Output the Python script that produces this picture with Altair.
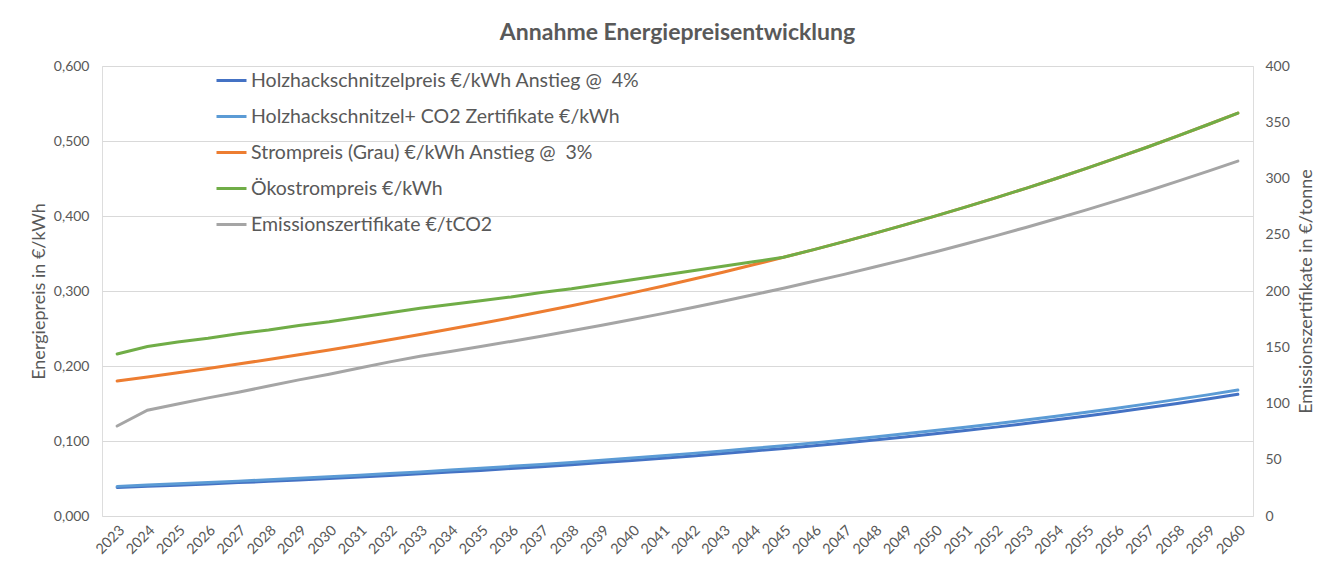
import altair as alt
import pandas as pd

years = list(range(2023, 2061))

holz = [0.0380, 0.0395, 0.0411, 0.0427, 0.0445, 0.0462, 0.0481, 0.0500, 0.0520, 0.0541,
        0.0562, 0.0585, 0.0608, 0.0633, 0.0658, 0.0684, 0.0712, 0.0740, 0.0770, 0.0801,
        0.0833, 0.0866, 0.0901, 0.0937, 0.0974, 0.1013, 0.1054, 0.1096, 0.1140, 0.1185,
        0.1232, 0.1282, 0.1333, 0.1386, 0.1442, 0.1500, 0.1559, 0.1622]

holz_co2 = [0.0395, 0.0412, 0.0429, 0.0446, 0.0465, 0.0483, 0.0503, 0.0523, 0.0544, 0.0566,
            0.0588, 0.0612, 0.0636, 0.0662, 0.0687, 0.0714, 0.0743, 0.0772, 0.0803, 0.0835,
            0.0868, 0.0902, 0.0938, 0.0975, 0.1014, 0.1054, 0.1096, 0.1139, 0.1184, 0.1231,
            0.1279, 0.1331, 0.1383, 0.1438, 0.1495, 0.1555, 0.1615, 0.1680]

strom = [0.1800, 0.1854, 0.1910, 0.1967, 0.2026, 0.2087, 0.2149, 0.2214, 0.2280, 0.2349,
         0.2419, 0.2492, 0.2566, 0.2643, 0.2723, 0.2804, 0.2888, 0.2975, 0.3064, 0.3156,
         0.3251, 0.3349, 0.3449, 0.3552, 0.3659, 0.3769, 0.3882, 0.3998, 0.4118, 0.4242,
         0.4369, 0.4500, 0.4635, 0.4774, 0.4917, 0.5065, 0.5217, 0.5373]

oeko = [0.216, 0.226, 0.232, 0.237, 0.243, 0.248, 0.254, 0.259, 0.265, 0.271,
        0.277, 0.282, 0.287, 0.292, 0.298, 0.303, 0.309, 0.315, 0.321, 0.327,
        0.333, 0.339, 0.345, 0.3552, 0.3659, 0.3769, 0.3882, 0.3998, 0.4118, 0.4242,
        0.4369, 0.4500, 0.4635, 0.4774, 0.4917, 0.5065, 0.5217, 0.5373]

emission = [80, 94, 99.5, 105, 110, 115.5, 121, 126, 131.5, 137,
            142, 146.3, 150.6, 155.2, 159.8, 164.6, 169.6, 174.7, 179.9, 185.3,
            190.9, 196.6, 202.5, 208.6, 214.8, 221.3, 227.9, 234.7, 241.8, 249.0,
            256.5, 264.2, 272.1, 280.3, 288.7, 297.4, 306.3, 315.5]

names = [
    "Holzhackschnitzelpreis €/kWh Anstieg @\u00a0 4%",
    "Holzhackschnitzel+ CO2 Zertifikate €/kWh",
    "Strompreis (Grau) €/kWh Anstieg @\u00a0 3%",
    "Ökostrompreis €/kWh",
    "Emissionszertifikate €/tCO2",
]
colors = ["#4472C4", "#5B9BD5", "#ED7D31", "#70AD47", "#A5A5A5"]

rows = []
for name, vals in zip(names[:4], [holz, holz_co2, strom, oeko]):
    for y, v in zip(years, vals):
        rows.append({"year": y, "series": name, "value": v})
left_df = pd.DataFrame(rows)
right_df = pd.DataFrame({"year": years, "series": names[4], "value": emission})

FONT = "Lato"
TXT = "#595959"

legend = alt.Legend(
    title=None, orient="none", legendX=113, legendY=-2, direction="vertical",
    symbolType="stroke", symbolSize=900, symbolStrokeWidth=3,
    labelFontSize=19.5, labelColor=TXT, labelFont=FONT, labelOffset=3,
    rowPadding=10, padding=0, labelLimit=600,
)
color = alt.Color("series:N", scale=alt.Scale(domain=names, range=colors), legend=legend, sort=names)

x = alt.X("year:O", scale=alt.Scale(type="point", padding=0.5),
          axis=alt.Axis(title=None, labelAngle=-45, labelFontSize=14.5, labelColor=TXT,
                        labelFont=FONT, domain=False, ticks=False, labelPadding=7))

left = alt.Chart(left_df).mark_line(strokeWidth=3, strokeCap="round").encode(
    x=x,
    y=alt.Y("value:Q", scale=alt.Scale(domain=[0, 0.6]),
            axis=alt.Axis(title="Energiepreis in €/kWh", values=[0, 0.1, 0.2, 0.3, 0.4, 0.5, 0.6],
                          labelExpr="replace(format(datum.value, '.3f'), '.', ',')",
                          grid=True, gridColor="#d9d9d9", gridWidth=1, domain=False, ticks=False,
                          labelFontSize=14, labelColor=TXT, labelFont=FONT, labelPadding=13,
                          titleFontSize=18, titleColor=TXT, titleFont=FONT, titleFontWeight="normal",
                          titlePadding=5)),
    color=color,
)

right = alt.Chart(right_df).mark_line(strokeWidth=3, strokeCap="round").encode(
    x=x,
    y=alt.Y("value:Q", scale=alt.Scale(domain=[0, 400]),
            axis=alt.Axis(title="Emissionszertifikate in €/tonne", orient="right",
                          values=[0, 50, 100, 150, 200, 250, 300, 350, 400],
                          grid=False, domain=False, ticks=False,
                          labelFontSize=14, labelColor=TXT, labelFont=FONT, labelPadding=12,
                          titleFontSize=18, titleColor=TXT, titleFont=FONT, titleFontWeight="normal",
                          titleAngle=270, titleBaseline="top", titlePadding=8)),
    color=color,
)

chart = alt.layer(left, right).resolve_scale(y="independent").properties(
    width=1151, height=450,
    title=alt.TitleParams("Annahme Energiepreisentwicklung", fontSize=23, font=FONT,
                          fontWeight="bold", color=TXT, anchor="middle", offset=14),
    autosize=alt.AutoSizeParams(type="none"),
    padding={"left": 94, "top": 58, "right": 66, "bottom": 40},
).configure_view(stroke=None).configure(background="white")

chart.save("out.html", embed_options={"renderer": "svg", "actions": False})
